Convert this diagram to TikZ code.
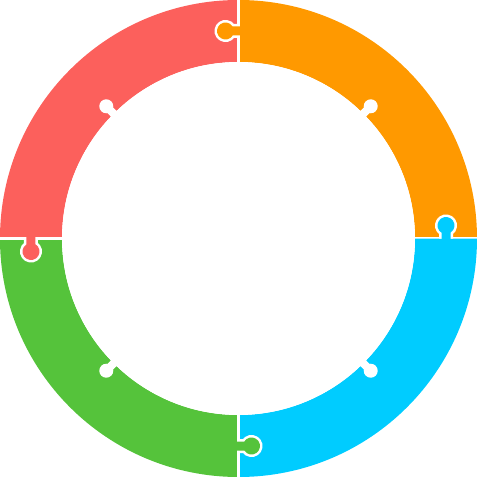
\documentclass[tikz,border=0pt]{standalone}
\usepackage{tikz}
\definecolor{pieceRed}{HTML}{FC605C}
\definecolor{pieceOrange}{HTML}{FF9900}
\definecolor{pieceBlue}{HTML}{00CCFF}
\definecolor{pieceGreen}{HTML}{55C33B}
\begin{document}
\begin{tikzpicture}[
        x=1pt, y=1pt,
        cut/.style={draw=white, line width=2.7pt},
        tabedge/.style={draw=white, line width=5pt},
        hole/.style={fill=white}
    ]
    \useasboundingbox (-238.5,-238.5) rectangle (238.5,238.5);
    \foreach \ang/\col in {0/pieceOrange, 90/pieceRed, 180/pieceGreen, 270/pieceBlue} {
        \begin{scope}[rotate=\ang]
            \fill[\col] (0:176.5) -- (0:238.5) arc[start angle=0, end angle=90, radius=238.5pt] -- (90:176.5) arc[start angle=90, end angle=0, radius=176.5pt] -- cycle;
        \end{scope}
        \draw[cut] (\ang:170) -- (\ang:245);
    }
    \fill[hole] (0,0) circle[radius=176.5pt];
    \foreach \ang/\col in {0/pieceOrange, 90/pieceRed, 180/pieceGreen, 270/pieceBlue} {
        \begin{scope}[rotate=\ang+45]
            \fill[hole] (187,0) circle[radius=7pt];
            \fill[hole] (172,-4) rectangle (184,4);
        \end{scope}
        \begin{scope}[rotate=\ang]
            \draw[tabedge] (0,203) -- (-5.79,203) arc[start angle=-32, end angle=-328, radius=8.5pt] -- (0,212);
            \fill[\col] (1.5,203) -- (-5.79,203) arc[start angle=-32, end angle=-328, radius=8.5pt] -- (1.5,212) -- cycle;
        \end{scope}
    }
\end{tikzpicture}
\end{document}
